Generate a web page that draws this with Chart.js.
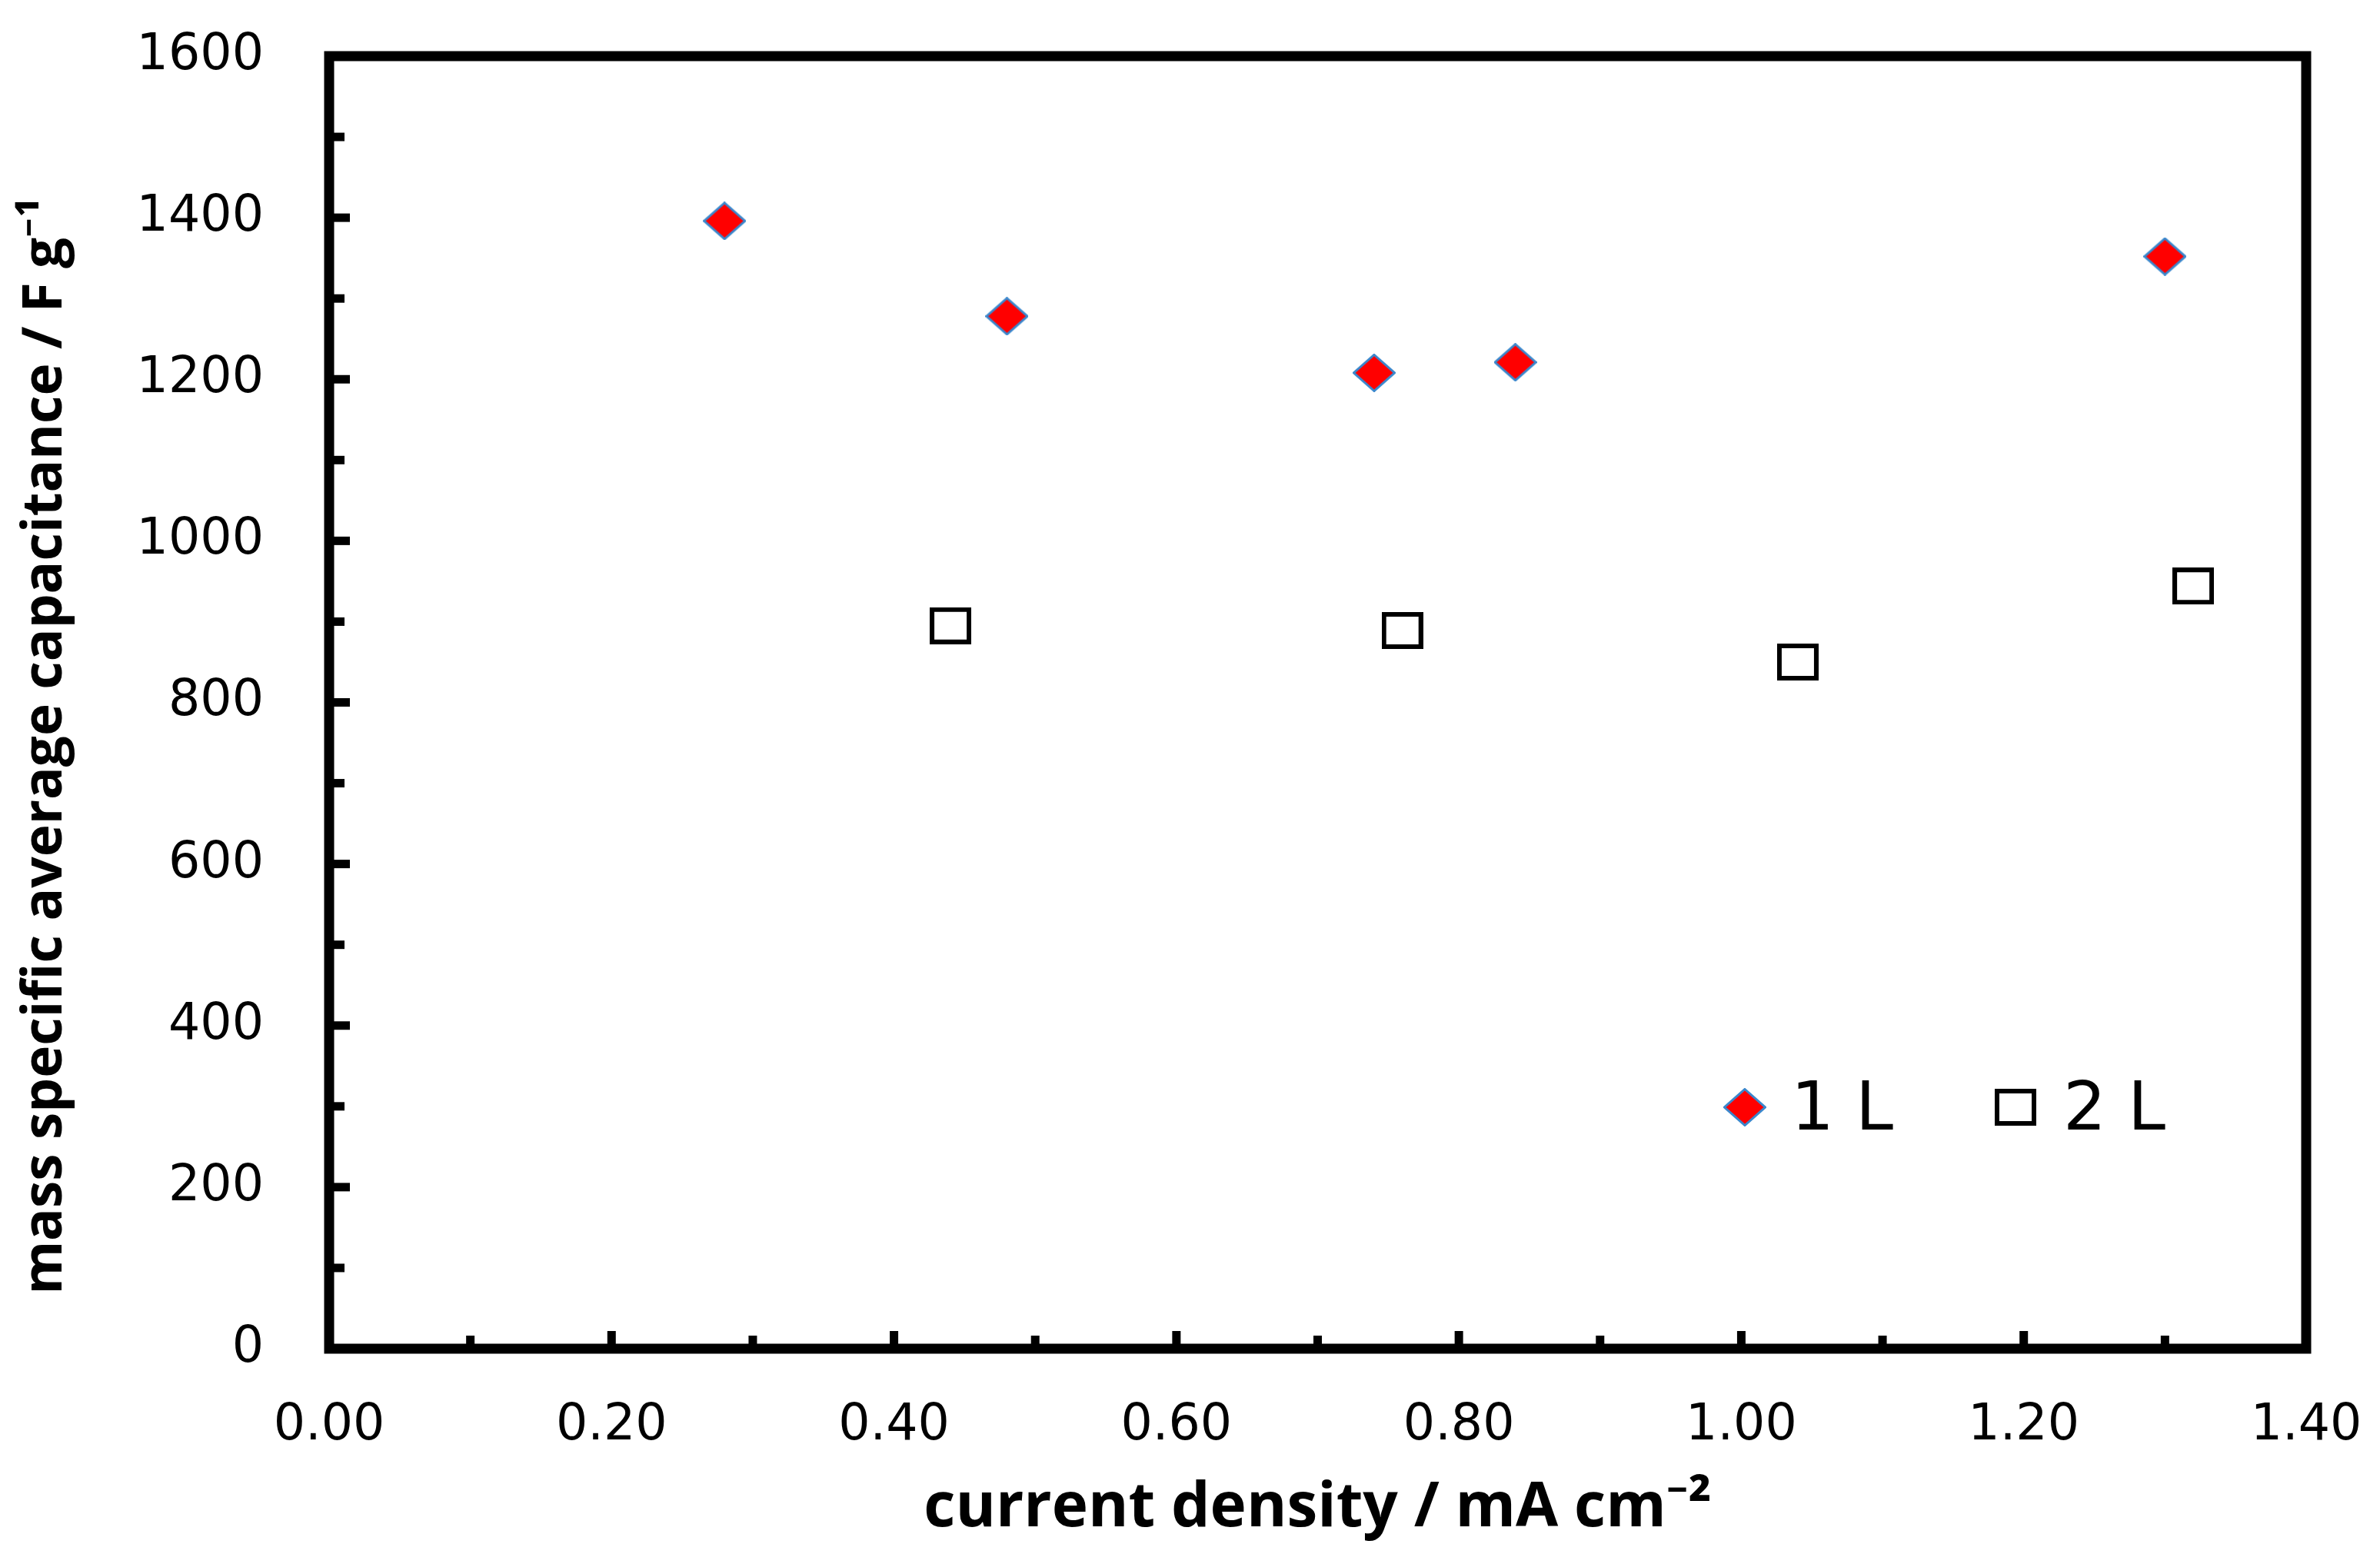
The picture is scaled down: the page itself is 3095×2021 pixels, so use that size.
<!DOCTYPE html>
<html>
<head>
<meta charset="utf-8">
<script src="https://cdn.jsdelivr.net/npm/chart.js@4.4.1/dist/chart.umd.min.js"></script>
<style>
  html, body { margin: 0; padding: 0; background: #fff; }
  canvas { display: block; }
</style>
</head>
<body>
<canvas id="capChart" width="3095" height="2021"></canvas>
<script>
// data
const seriesNames = ["1 L", "2 L"];
const x1L = [0.28, 0.48, 0.74, 0.84, 1.30];
const y1L = [1396, 1278, 1208, 1221, 1352];
const x2L = [0.44, 0.76, 1.04, 1.32];
const y2L = [895, 889, 850, 944];

const xTickLabels = ["0.00", "0.20", "0.40", "0.60", "0.80", "1.00", "1.20", "1.40"];
const yTickLabels = ["0", "200", "400", "600", "800", "1000", "1200", "1400", "1600"];
const xMinorTicks = [0.1, 0.3, 0.5, 0.7, 0.9, 1.1, 1.3];
const yMinorTicks = [100, 300, 500, 700, 900, 1100, 1300, 1500];

const xTitle = "current density / mA cm\u207B\u00B2";
const yTitle = "mass specific average capacitance / F g\u207B\u00B9";

const xTitleFont = "bold 80px 'Open Sans', 'Noto Sans', sans-serif";
const yTitleFont = "bold 71px 'Open Sans', 'Noto Sans', sans-serif";
const legendFont = "88px 'DejaVu Sans'";

function toPoints(xs, ys) {
  return xs.map((x, i) => ({ x: x, y: ys[i] }));
}

// marker images (the original markers are a bit wider than tall)
function diamondMarker(w, h, fill, stroke, lw) {
  const c = document.createElement("canvas");
  c.width = w; c.height = h;
  const g = c.getContext("2d");
  g.beginPath();
  g.moveTo(w / 2, lw / 2);
  g.lineTo(w - lw / 2, h / 2);
  g.lineTo(w / 2, h - lw / 2);
  g.lineTo(lw / 2, h / 2);
  g.closePath();
  g.fillStyle = fill; g.fill();
  g.lineWidth = lw; g.strokeStyle = stroke; g.stroke();
  return c;
}

function squareMarker(w, h, fill, stroke, lw) {
  const c = document.createElement("canvas");
  c.width = w; c.height = h;
  const g = c.getContext("2d");
  g.fillStyle = fill;
  g.fillRect(lw / 2, lw / 2, w - lw, h - lw);
  g.lineWidth = lw; g.strokeStyle = stroke;
  g.strokeRect(lw / 2, lw / 2, w - lw, h - lw);
  return c;
}

const marker1L = diamondMarker(56, 50, "#FF0000", "#3B87CC", 3);
const marker2L = squareMarker(54, 48, "#FFFFFF", "#000000", 6);

// frame, inward tick marks, axis titles and the inset legend
const framePlugin = {
  id: "frame",
  afterDatasetsDraw(chart) {
    const { ctx, chartArea: a, scales } = chart;
    const xs = scales.x, ys = scales.y;
    ctx.save();
    ctx.strokeStyle = "#000";
    ctx.lineCap = "butt";

    // ticks
    ctx.lineWidth = 11;
    xs.ticks.forEach(t => {
      const px = xs.getPixelForValue(t.value);
      ctx.beginPath(); ctx.moveTo(px, a.bottom); ctx.lineTo(px, a.bottom - 23); ctx.stroke();
    });
    xMinorTicks.forEach(v => {
      const px = xs.getPixelForValue(v);
      ctx.beginPath(); ctx.moveTo(px, a.bottom); ctx.lineTo(px, a.bottom - 17); ctx.stroke();
    });
    ys.ticks.forEach(t => {
      const py = ys.getPixelForValue(t.value);
      ctx.beginPath(); ctx.moveTo(a.left, py); ctx.lineTo(a.left + 27, py); ctx.stroke();
    });
    yMinorTicks.forEach(v => {
      const py = ys.getPixelForValue(v);
      ctx.beginPath(); ctx.moveTo(a.left, py); ctx.lineTo(a.left + 20, py); ctx.stroke();
    });

    // plot border
    ctx.lineWidth = 13;
    ctx.lineJoin = "miter";
    ctx.strokeRect(a.left, a.top, a.right - a.left, a.bottom - a.top);

    // axis titles
    ctx.fillStyle = "#000";
    ctx.textAlign = "center";
    ctx.textBaseline = "alphabetic";
    ctx.font = xTitleFont;
    ctx.fillText(xTitle, (a.left + a.right) / 2, 1985);
    ctx.font = yTitleFont;
    ctx.translate(80, 970);
    ctx.rotate(-Math.PI / 2);
    ctx.fillText(yTitle, 0, 0);
    ctx.restore();

    // legend inside the plot
    ctx.save();
    const ly = a.bottom - 314;
    const entries = [
      { ds: chart.data.datasets[0], px: a.right - 730, tx: a.right - 670 },
      { ds: chart.data.datasets[1], px: a.right - 378, tx: a.right - 316 }
    ];
    ctx.font = legendFont;
    ctx.fillStyle = "#000";
    ctx.textAlign = "left";
    ctx.textBaseline = "alphabetic";
    entries.forEach(e => {
      const img = e.ds.pointStyle;
      ctx.drawImage(img, e.px - img.width / 2, ly - img.height / 2);
      ctx.fillText(e.ds.label, e.tx, ly + 29);
    });
    ctx.restore();
  }
};

const bgPlugin = {
  id: "bg",
  beforeDraw(chart) {
    const ctx = chart.ctx;
    ctx.save();
    ctx.fillStyle = "#fff";
    ctx.fillRect(0, 0, chart.width, chart.height);
    ctx.restore();
  }
};

const tickFont = { family: "'DejaVu Sans'", size: 65 };

new Chart(document.getElementById("capChart").getContext("2d"), {
  type: "scatter",
  data: {
    datasets: [
      {
        label: seriesNames[0],
        data: toPoints(x1L, y1L),
        pointStyle: marker1L,
        pointRadius: 28
      },
      {
        label: seriesNames[1],
        data: toPoints(x2L, y2L),
        pointStyle: marker2L,
        pointRadius: 27
      }
    ]
  },
  options: {
    responsive: false,
    animation: false,
    devicePixelRatio: 1,
    layout: { padding: { top: 73, right: 96, left: 0, bottom: 0 } },
    plugins: {
      legend: { display: false },
      tooltip: { enabled: false }
    },
    scales: {
      x: {
        type: "linear",
        min: 0,
        max: 1.4,
        grid: { display: false, drawTicks: false },
        border: { display: false },
        ticks: {
          stepSize: 0.2,
          padding: 62,
          color: "#000",
          font: tickFont,
          maxRotation: 0,
          autoSkip: false,
          callback: (v, i) => xTickLabels[i]
        },
        afterFit: s => {
          s.height = 267;
          s.paddingLeft = 0; s.paddingRight = 0;
        }
      },
      y: {
        type: "linear",
        min: 0,
        max: 1600,
        grid: { display: false, drawTicks: false },
        border: { display: false },
        ticks: {
          stepSize: 200,
          padding: 85,
          color: "#000",
          font: tickFont,
          callback: (v, i) => yTickLabels[i]
        },
        afterFit: s => {
          s.width = 428;
          s.paddingTop = 0; s.paddingBottom = 0;
        }
      }
    }
  },
  plugins: [bgPlugin, framePlugin]
});
</script>
</body>
</html>
